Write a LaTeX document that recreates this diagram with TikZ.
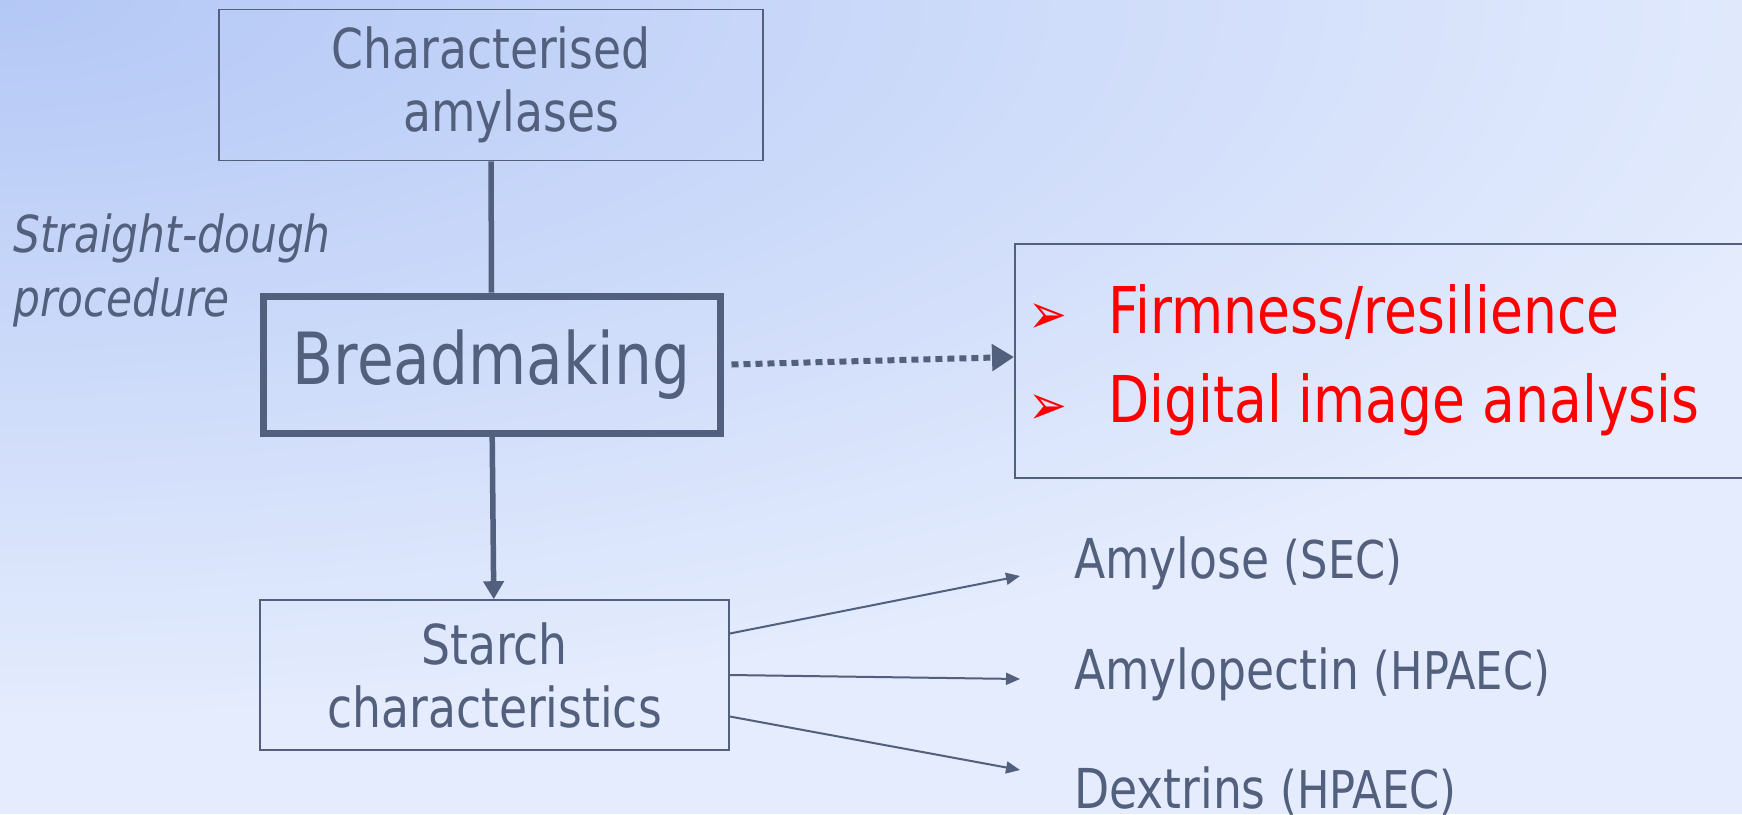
\documentclass[tikz,border=0pt]{standalone}
\usepackage{fontspec}
\setmainfont{DejaVu Sans}[FakeStretch=0.83]
\usetikzlibrary{arrows.meta,positioning,calc}
\definecolor{ink}{RGB}{82,96,125}
\definecolor{hot}{RGB}{255,0,0}
\definecolor{bgTL}{RGB}{180,200,246}
\definecolor{bgBR}{RGB}{228,236,253}
\def \BoxFont {\fontsize{55}{63}\selectfont}
\def \NoteFont {\fontsize{52}{56}\selectfont}
\tikzstyle{stage}=[
  draw=ink,
  line width=1.6,
  text=ink,
  align=center,
  font=\BoxFont
]
\tikzstyle{result}=[
  text=ink,
  anchor=west,
  inner sep=0,
  font=\fontsize{55}{63}\selectfont
]
\tikzstyle{finding}=[
  text=hot,
  anchor=base west,
  inner sep=0,
  font=\fontsize{64.5}{72}\selectfont
]
\tikzstyle{tick}=[
  text=hot,
  inner sep=0,
  font=\fontsize{56}{60}\selectfont
]

\begin{document}
\begin{tikzpicture}[x=1pt,y=-1pt]
          % page and background
          \useasboundingbox (0,0) rectangle (1742,814);
          \fill[bgBR] (0,0) rectangle (1742,814);
          \begin{scope}
            \clip (0,0) rectangle (1742,814);
            \shade[inner color=bgTL, outer color=bgBR] (0,0) ellipse [x radius=1900, y radius=720];
          \end{scope}

          % boxes
          \node[stage, minimum width=544, minimum height=151] (amyl) at (491,85)
            {Characterised\\\hspace*{40pt}amylases};
          \node[stage, line width=7, minimum width=457, minimum height=137,
                font=\fontsize{72}{80}\selectfont] (bread) at (491.5,364.5) {Breadmaking};
          \node[stage, minimum width=469, minimum height=150] (starch) at (494.5,675)
            {Starch\\characteristics};
          \node[draw=ink, line width=1.6, minimum width=780, minimum height=234,
                anchor=west] (tests) at (1014,361) {};

          % side note
          \node[text=ink, anchor=west, align=left, inner sep=0,
                font=\fontsize{51}{64}\selectfont\itshape] (proc) at (13,270)
            {Straight-dough\\procedure};

          % findings
          \node[finding] (firm) at (1108,333) {Firmness/resilience};
          \node[finding] (dia) at (1108,422) {Digital image analysis};
          \node[tick] (t1) at (1048,319) {➢};
          \node[tick] (t2) at (1048,410) {➢};

          % starch results
          \node[result] (ams) at (1074,563) {Amylose {\NoteFont(SEC)}};
          \node[result] (amp) at (1074,674) {Amylopectin {\NoteFont(HPAEC)}};
          \node[result] (dex) at (1074,791) {Dextrins {\NoteFont(HPAEC)}};

          % connect stages
          \draw[ink, line width=5.5] (amyl) -- (bread);
          \draw[ink, line width=5.5, -{Triangle[length=18,width=20]}] (bread) -- (starch);
          \draw[ink, line width=6, dash pattern=on 7 off 5,
                -{Triangle[length=22,width=26]}] ([xshift=8]bread.east) -- (tests.west |- 0,357);

          % connect results
          \draw[ink, line width=2, -{Triangle[length=14,width=12]}] (starch.10) -- ($(ams.west)+(-54,13)$);
          \draw[ink, line width=2, -{Triangle[length=14,width=12]}] (starch.east) -- ($(amp.west)+(-54,5)$);
          \draw[ink, line width=2, -{Triangle[length=14,width=12]}] (starch.-10) -- ($(dex.west)+(-54,-21)$);
        \end{tikzpicture}
\end{document}
